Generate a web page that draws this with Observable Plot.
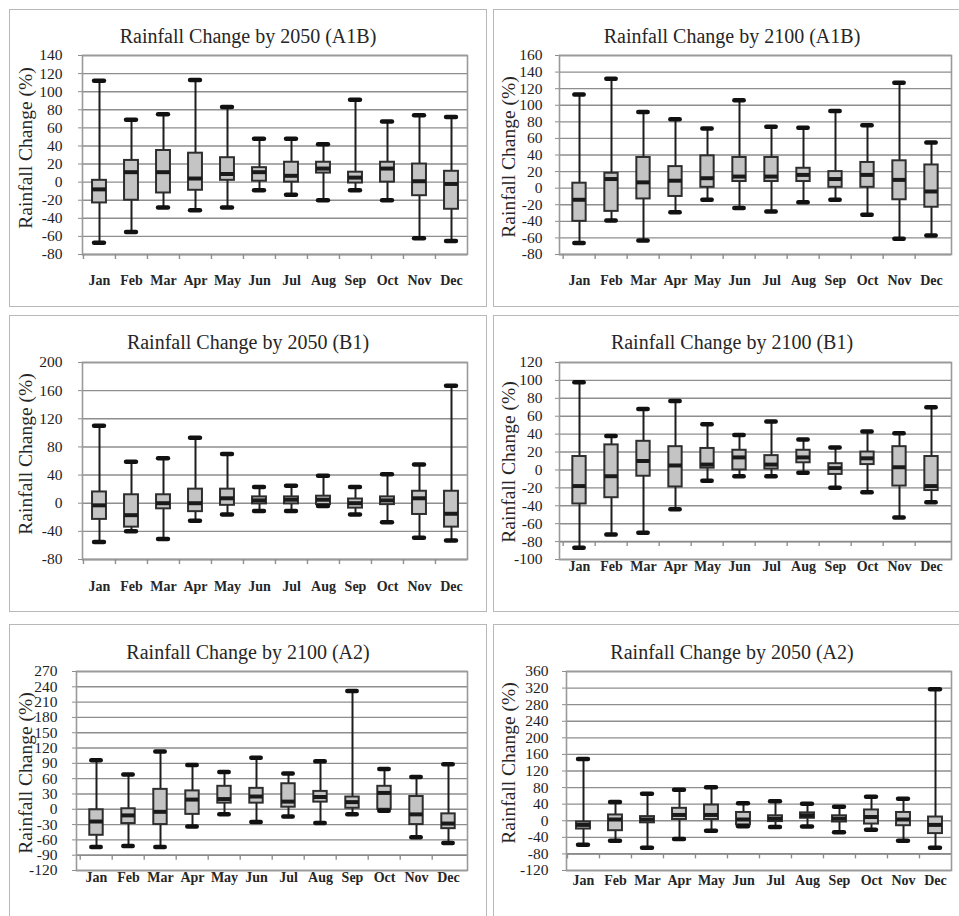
<!DOCTYPE html>
<html><head><meta charset="utf-8">
<script src="https://cdn.jsdelivr.net/npm/d3@7"></script>
<script src="https://cdn.jsdelivr.net/npm/@observablehq/plot@0.6"></script>
<style>
body{margin:0;background:#fff;font-family:"Liberation Serif","Times New Roman",serif;}
#root{position:relative;width:959px;height:916px;overflow:hidden;background:#fff;}
.frame{position:absolute;border:1.5px solid #b8b8b8;box-sizing:border-box;}
.title{position:absolute;font-size:20px;color:#262626;white-space:nowrap;transform:translate(-50%,-50%);line-height:1;}
.plot{position:absolute;}
</style></head><body><div id="root"></div>
<script>
const months = ["Jan","Feb","Mar","Apr","May","Jun","Jul","Aug","Sep","Oct","Nov","Dec"];

// Rainfall Change by 2050 (A1B)
const a1b2050Min = [-67, -55, -28, -31, -28, -9, -14, -20, -9, -20, -62, -65];
const a1b2050Q1  = [-23, -20, -12, -9, 2, 1, 0, 10, -1, 0, -15, -30];
const a1b2050Med = [-8, 11, 11, 4, 9, 11, 7, 15, 5, 15, 1, -2];
const a1b2050Q3  = [2, 24, 35, 32, 27, 16, 22, 22, 11, 22, 20, 12];
const a1b2050Max = [112, 69, 75, 113, 83, 48, 48, 42, 91, 67, 74, 72];
const a1b2050Ticks = [-80, -60, -40, -20, 0, 20, 40, 60, 80, 100, 120, 140];

// Rainfall Change by 2100 (A1B)
const a1b2100Min = [-66, -39, -63, -29, -14, -24, -28, -17, -14, -32, -61, -57];
const a1b2100Q1  = [-40, -28, -13, -10, 1, 8, 8, 8, 1, 1, -14, -23];
const a1b2100Med = [-14, 11, 7, 9, 12, 14, 14, 16, 11, 16, 10, -4];
const a1b2100Q3  = [6, 18, 37, 26, 39, 37, 37, 24, 20, 31, 33, 28];
const a1b2100Max = [113, 132, 92, 83, 72, 106, 74, 73, 93, 76, 127, 55];
const a1b2100Ticks = [-80, -60, -40, -20, 0, 20, 40, 60, 80, 100, 120, 140, 160];

// Rainfall Change by 2050 (B1)
const b12050Min = [-55, -40, -51, -25, -16, -11, -11, -4, -16, -27, -49, -53];
const b12050Q1  = [-23, -34, -8, -12, -3, -1, -1, -2, -7, -2, -16, -34];
const b12050Med = [-3, -17, 0, 0, 7, 4, 5, 5, 0, 4, 7, -15];
const b12050Q3  = [16, 12, 12, 20, 20, 9, 9, 10, 6, 9, 17, 17];
const b12050Max = [110, 59, 64, 93, 70, 23, 25, 39, 23, 41, 55, 167];
const b12050Ticks = [-80, -40, 0, 40, 80, 120, 160, 200];

// Rainfall Change by 2100 (B1)
const b12100Min = [-87, -72, -70, -44, -12, -7, -7, -3, -20, -25, -53, -36];
const b12100Q1  = [-38, -31, -7, -19, 2, 0, 1, 8, -5, 6, -18, -23];
const b12100Med = [-18, -7, 10, 5, 6, 14, 6, 14, 2, 13, 3, -18];
const b12100Q3  = [15, 28, 32, 26, 24, 22, 16, 22, 7, 20, 26, 15];
const b12100Max = [98, 38, 68, 77, 51, 39, 54, 34, 25, 43, 41, 70];
const b12100Ticks = [-100, -80, -60, -40, -20, 0, 20, 40, 60, 80, 100, 120];

// Rainfall Change by 2100 (A2)
const a22100Min = [-74, -72, -74, -34, -10, -25, -14, -27, -10, -3, -55, -66];
const a22100Q1  = [-51, -28, -30, -10, 12, 12, 4, 14, 2, 0, -30, -38];
const a22100Med = [-24, -12, -5, 19, 20, 25, 15, 24, 14, 32, -10, -28];
const a22100Q3  = [-1, 1, 39, 36, 45, 41, 50, 35, 24, 45, 25, -9];
const a22100Max = [96, 68, 113, 87, 73, 101, 70, 94, 232, 79, 63, 88];
const a22100Ticks = [-120, -90, -60, -30, 0, 30, 60, 90, 120, 150, 180, 210, 240, 270];

// Rainfall Change by 2050 (A2)
const a22050Min = [-58, -48, -65, -44, -24, -13, -15, -14, -28, -22, -48, -65];
const a22050Q1  = [-20, -24, -5, 3, 3, -10, -2, 6, -3, -8, -12, -31];
const a22050Med = [-10, 3, 3, 14, 14, 3, 5, 13, 5, 9, 3, -10];
const a22050Q3  = [-3, 14, 10, 30, 38, 20, 12, 19, 12, 26, 20, 9];
const a22050Max = [149, 45, 65, 75, 81, 42, 47, 41, 34, 58, 53, 317];
const a22050Ticks = [-120, -80, -40, 0, 40, 80, 120, 160, 200, 240, 280, 320, 360];

const yTitle = "Rainfall Change (%)";

const panels = [
  {title:"Rainfall Change by 2050 (A1B)", min:a1b2050Min, q1:a1b2050Q1, med:a1b2050Med, q3:a1b2050Q3, max:a1b2050Max, ticks:a1b2050Ticks, axisAt:-80,
   frame:[9,9,478,298], plot:[82,55,467,254], titleXY:[248,36], labelDy:26, yTitleX:25, yTitleDy:-7, tickPad:16},
  {title:"Rainfall Change by 2100 (A1B)", min:a1b2100Min, q1:a1b2100Q1, med:a1b2100Med, q3:a1b2100Q3, max:a1b2100Max, ticks:a1b2100Ticks, axisAt:-80,
   frame:[493,9,490,298], plot:[559,55,951,254], titleXY:[732,36], labelDy:26, yTitleX:508, yTitleDy:2, tickPad:13},
  {title:"Rainfall Change by 2050 (B1)", min:b12050Min, q1:b12050Q1, med:b12050Med, q3:b12050Q3, max:b12050Max, ticks:b12050Ticks, axisAt:-80,
   frame:[9,315,478,297], plot:[82,362,467,559], titleXY:[248,342], labelDy:27, yTitleX:25, yTitleDy:-7, tickPad:16},
  {title:"Rainfall Change by 2100 (B1)", min:b12100Min, q1:b12100Q1, med:b12100Med, q3:b12100Q3, max:b12100Max, ticks:b12100Ticks, axisAt:-80,
   frame:[493,315,490,297], plot:[559,362,951,559], titleXY:[732,342], labelDy:25, yTitleX:508, yTitleDy:1, tickPad:13},
  {title:"Rainfall Change by 2100 (A2)", min:a22100Min, q1:a22100Q1, med:a22100Med, q3:a22100Q3, max:a22100Max, ticks:a22100Ticks, axisAt:-90,
   frame:[9,624,478,320], plot:[76,671,467,870], titleXY:[248,652], labelDy:22, yTitleX:25, yTitleDy:2, tickPad:15},
  {title:"Rainfall Change by 2050 (A2)", min:a22050Min, q1:a22050Q1, med:a22050Med, q3:a22050Q3, max:a22050Max, ticks:a22050Ticks, axisAt:-80,
   frame:[493,624,490,320], plot:[566,671,951,870], titleXY:[732,652], labelDy:27, yTitleX:508, yTitleDy:-8, tickPad:14}
];

const root = document.getElementById("root");
const FONT = '"Liberation Serif","Times New Roman",serif';

for (const p of panels) {
  const fr = document.createElement("div");
  fr.className = "frame";
  Object.assign(fr.style, {left:p.frame[0]+"px", top:p.frame[1]+"px", width:p.frame[2]+"px", height:p.frame[3]+"px"});
  root.appendChild(fr);

  const t = document.createElement("div");
  t.className = "title";
  t.textContent = p.title;
  Object.assign(t.style, {left:p.titleXY[0]+"px", top:p.titleXY[1]+"px"});
  root.appendChild(t);

  const [pl, pt, pr, pb] = p.plot;
  const fl = p.frame[0];
  const mL = pl - fl, mT = 14, mR = 6, mB = 44;
  const width = pr - pl + mL + mR, height = pb - pt + mT + mB;
  const step = (pr - pl) / months.length;
  const rows = months.map((m, i) => ({month:m, min:p.min[i], q1:p.q1[i], med:p.med[i], q3:p.q3[i], max:p.max[i]}));
  const domain = [p.ticks[0], p.ticks[p.ticks.length - 1]];
  const boxInset = (step - 14) / 2;
  const capInset = boxInset + 2;

  const chart = Plot.plot({
    width, height,
    marginLeft:mL, marginRight:mR, marginTop:mT, marginBottom:mB,
    style:{fontFamily:FONT, background:"transparent", color:"#222", overflow:"visible"},
    x:{type:"band", domain:months, padding:0, axis:null},
    y:{domain, axis:null},
    marks:[
      Plot.ruleY(p.ticks, {stroke:"#8e8e8e", strokeWidth:1.4}),
      Plot.ruleY([p.axisAt], {stroke:"#8a8a8a", strokeWidth:1.6}),
      Plot.frame({stroke:"#9a9a9a", strokeWidth:1.6}),
      Plot.axisY(p.ticks, {tickSize:4, tickPadding:p.tickPad, fontSize:15.5, stroke:"#8e8e8e", fill:"#1e1e1e", tickFormat:d => String(d), label:null}),
      Plot.ruleX(months, {x:d => d, y1:() => p.axisAt, y2:() => p.axisAt, dx:-step/2, insetBottom:-5, stroke:"#8e8e8e", strokeWidth:1.4}),
      Plot.text(months, {x:d => d, y:() => p.axisAt, dy:p.labelDy, text:d => d, fontSize:14, fontWeight:"bold", fill:"#262626"}),
      Plot.text([yTitle], {frameAnchor:"left", textAnchor:"middle", rotate:-90, dx:p.yTitleX - pl, dy:p.yTitleDy, fontSize:19.5, fill:"#262626"}),
      Plot.ruleX(rows, {x:"month", y1:"min", y2:"max", stroke:"#1e1e1e", strokeWidth:2}),
      Plot.barY(rows, {x:"month", y1:"q1", y2:"q3", fill:"#c4c4c4", stroke:"#2e2e2e", strokeWidth:2, insetLeft:boxInset, insetRight:boxInset}),
      Plot.tickY(rows, {x:"month", y:"med", stroke:"#1a1a1a", strokeWidth:4, insetLeft:boxInset, insetRight:boxInset}),
      Plot.tickY(rows, {x:"month", y:"min", stroke:"#111", strokeWidth:4.5, strokeLinecap:"round", insetLeft:capInset, insetRight:capInset}),
      Plot.tickY(rows, {x:"month", y:"max", stroke:"#111", strokeWidth:4.5, strokeLinecap:"round", insetLeft:capInset, insetRight:capInset})
    ]
  });
  chart.classList.add("plot");
  Object.assign(chart.style, {left:fl+"px", top:(pt - mT)+"px", position:"absolute"});
  root.appendChild(chart);
}
</script></body></html>
